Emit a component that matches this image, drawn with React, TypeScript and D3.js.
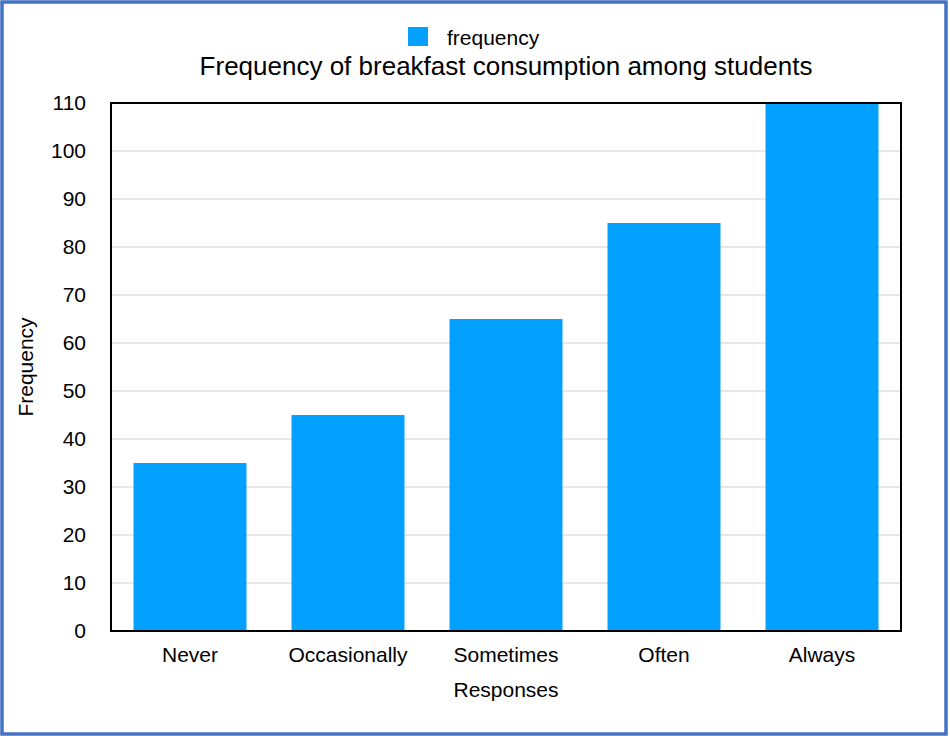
import React, { useEffect, useRef } from "react";
import * as d3 from "d3";

const categories = ["Never", "Occasionally", "Sometimes", "Often", "Always"];
const frequency = [35, 45, 65, 85, 110];
const yTicks = [0, 10, 20, 30, 40, 50, 60, 70, 80, 90, 100, 110];

const W = 950;
const H = 738;
const FONT = "'Liberation Sans', Arial, Helvetica, sans-serif";
const BAR = "#03a0fe";

export default function App() {
  const ref = useRef<SVGSVGElement | null>(null);

  useEffect(() => {
    const svg = d3.select(ref.current);
    svg.selectAll("*").remove();

    const margin = { top: 103, right: 49, bottom: 107, left: 111 };
    const width = W - margin.left - margin.right;
    const height = H - margin.top - margin.bottom;

    // outer frame
    svg
      .append("rect")
      .attr("x", 2)
      .attr("y", 2)
      .attr("width", 944)
      .attr("height", 732)
      .attr("fill", "#fff")
      .attr("stroke", "#4472c4")
      .attr("stroke-width", 3.5);

    const g = svg
      .append("g")
      .attr("transform", `translate(${margin.left}, ${margin.top})`);

    const x = d3
      .scaleBand()
      .domain(categories)
      .range([0, width])
      .paddingInner(0.285)
      .paddingOuter(0.1425);

    const y = d3.scaleLinear().domain([0, 110]).range([height, 0]);

    // grid
    g.selectAll("line.grid")
      .data(yTicks.slice(1, -1))
      .enter()
      .append("line")
      .attr("x1", 0)
      .attr("x2", width)
      .attr("y1", (d) => y(d))
      .attr("y2", (d) => y(d))
      .attr("stroke", "#cfcfcf")
      .attr("stroke-width", 1);

    g.selectAll("rect.bar")
      .data(categories)
      .enter()
      .append("rect")
      .attr("x", (d) => x(d)!)
      .attr("y", (d, i) => y(frequency[i]))
      .attr("width", x.bandwidth())
      .attr("height", (d, i) => height - y(frequency[i]))
      .attr("fill", BAR);

    // plot frame
    g.append("rect")
      .attr("x", 0)
      .attr("y", 0)
      .attr("width", width)
      .attr("height", height)
      .attr("fill", "none")
      .attr("stroke", "#000")
      .attr("stroke-width", 2);

    const yAxis = g
      .append("g")
      .call(d3.axisLeft(y).tickValues(yTicks).tickSize(0).tickPadding(25));
    yAxis.select(".domain").remove();
    yAxis
      .attr("font-size", null)
      .attr("font-family", null)
      .selectAll("text")
      .style("font-family", FONT)
      .style("font-size", "21px")
      .attr("fill", "#000");

    const xAxis = g
      .append("g")
      .attr("transform", `translate(0, ${height})`)
      .call(d3.axisBottom(x).tickSize(0).tickPadding(16));
    xAxis.select(".domain").remove();
    xAxis
      .attr("font-size", null)
      .attr("font-family", null)
      .selectAll("text")
      .style("font-family", FONT)
      .style("font-size", "21px")
      .attr("fill", "#000");

    svg
      .append("text")
      .attr("x", margin.left + width / 2)
      .attr("y", 697)
      .attr("text-anchor", "middle")
      .style("font-family", FONT)
      .style("font-size", "21px")
      .text("Responses");

    svg
      .append("text")
      .attr("transform", `translate(33, ${margin.top + height / 2}) rotate(-90)`)
      .attr("text-anchor", "middle")
      .style("font-family", FONT)
      .style("font-size", "21px")
      .text("Frequency");

    svg
      .append("text")
      .attr("x", margin.left + width / 2)
      .attr("y", 75)
      .attr("text-anchor", "middle")
      .style("font-family", FONT)
      .style("font-size", "26px")
      .text("Frequency of breakfast consumption among students");

    // legend
    svg
      .append("rect")
      .attr("x", 408)
      .attr("y", 27)
      .attr("width", 20)
      .attr("height", 19)
      .attr("fill", BAR);
    svg
      .append("text")
      .attr("x", 447)
      .attr("y", 45)
      .style("font-family", FONT)
      .style("font-size", "21px")
      .text("frequency");
  }, []);

  return (
    <div style={{ position: "absolute", left: 0, top: 0 }}>
      <svg ref={ref} width={W} height={H} style={{ display: "block" }} />
    </div>
  );
}
